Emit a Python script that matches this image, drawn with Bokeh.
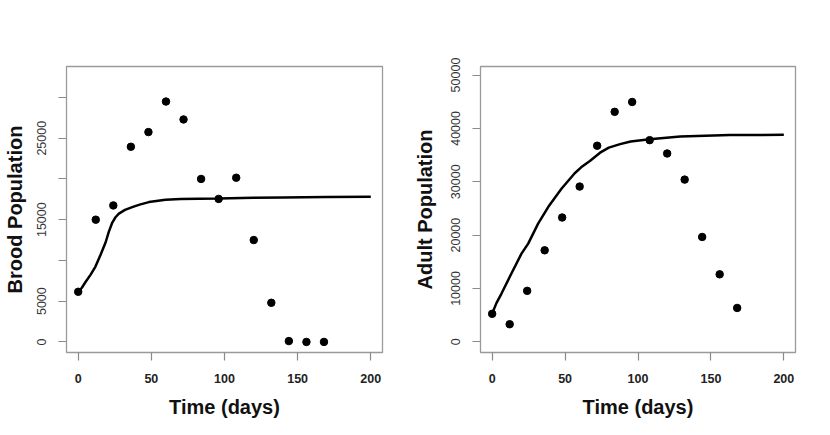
from bokeh.plotting import figure
from bokeh.models import FixedTicker, Range1d
from bokeh.layouts import row
from bokeh.embed import file_html
from bokeh.resources import INLINE

# ---- data ----
t_obs = [0, 12, 24, 36, 48, 60, 72, 84, 96, 108, 120, 132, 144, 156, 168]
brood_obs = [6150, 15000, 16750, 23950, 25750, 29500, 27300, 20000, 17550,
             20150, 12500, 4800, 100, 0, 0]
adult_obs = [5250, 3300, 9550, 17150, 23300, 29100, 36750, 43100, 44950,
             37800, 35300, 30400, 19650, 12650, 6350]

t_brood_fit = [0, 2.5, 5, 8.5, 11.8, 15.3, 18.7, 20.9, 23.3, 25.5, 27.8, 32,
               36.9, 42, 48.3, 59.7, 70, 82.5, 96, 120, 140, 170, 200]
brood_fit = [6150, 6650, 7350, 8260, 9250, 10700, 12200, 13500, 14650, 15300,
             15740, 16200, 16540, 16850, 17160, 17450, 17530, 17570, 17600,
             17680, 17720, 17770, 17800]

t_adult_fit = [0, 3, 6.4, 13.2, 20.1, 24.7, 31.5, 38.4, 47.5, 56.6, 61, 67,
               74, 80, 87.7, 95, 108, 129, 163, 200]
adult_fit = [5300, 7300, 9050, 12800, 16540, 18410, 22150, 25260, 28700,
             31600, 32700, 33900, 35450, 36400, 37050, 37550, 37950, 38500,
             38750, 38800]

x_ticks = [0, 50, 100, 150, 200]
brood_ticks = [0, 5000, 10000, 15000, 20000, 25000, 30000]
brood_tick_labels = ["0", "5000", "", "15000", "", "25000", ""]
adult_ticks = [0, 10000, 20000, 30000, 40000, 50000]
adult_tick_labels = ["0", "10000", "20000", "30000", "40000", "50000"]

FONT = "Liberation Sans"


def make_plot(t_fit, y_fit, y_obs, y_range, yticks, ylabels, ylabel,
              border_left, border_right, frame_w, label_standoff):
    p = figure(frame_width=frame_w, frame_height=286,
               x_range=Range1d(-8, 208), y_range=Range1d(*y_range),
               output_backend="svg", toolbar_location=None,
               min_border_left=border_left, min_border_right=border_right,
               min_border_top=66, min_border_bottom=66)
    p.grid.visible = False
    p.outline_line_color = "#9a9a9a"
    p.outline_line_width = 1.3
    p.background_fill_color = "white"
    p.border_fill_color = "white"

    p.line(t_fit, y_fit, line_width=2.5, color="black")
    p.scatter(t_obs, y_obs, size=7.5, color="black")

    xa = p.xaxis[0]
    xa.ticker = FixedTicker(ticks=x_ticks)
    xa.bounds = (min(x_ticks), max(x_ticks))
    xa.axis_line_color = None
    xa.major_tick_in = 0
    xa.major_tick_out = 8
    xa.major_tick_line_color = "#8a8a8a"
    xa.major_tick_line_width = 1.2
    xa.minor_tick_line_color = None
    xa.major_label_standoff = 13
    xa.major_label_text_font = FONT
    xa.major_label_text_font_size = "12.5px"
    xa.major_label_text_font_style = "bold"
    xa.major_label_text_color = "#222222"
    xa.axis_label = "Time (days)"
    xa.axis_label_text_font = FONT
    xa.axis_label_text_font_size = "20px"
    xa.axis_label_text_font_style = "bold"
    xa.axis_label_text_color = "#111111"
    xa.axis_label_standoff = 10

    ya = p.yaxis[0]
    ya.ticker = FixedTicker(ticks=yticks)
    ya.major_label_overrides = {v: s for v, s in zip(yticks, ylabels)}
    ya.bounds = (min(yticks), max(yticks))
    ya.axis_line_color = None
    ya.major_tick_in = 0
    ya.major_tick_out = 8
    ya.major_tick_line_color = "#8a8a8a"
    ya.major_tick_line_width = 1.2
    ya.minor_tick_line_color = None
    ya.major_label_orientation = "vertical"
    ya.major_label_standoff = 12
    ya.major_label_text_font = FONT
    ya.major_label_text_font_size = "12.5px"
    ya.major_label_text_color = "#333333"
    ya.axis_label = ylabel
    ya.axis_label_text_font = FONT
    ya.axis_label_text_font_size = "20px"
    ya.axis_label_text_font_style = "bold"
    ya.axis_label_text_color = "#111111"
    ya.axis_label_standoff = label_standoff
    return p


p1 = make_plot(t_brood_fit, brood_fit, brood_obs, (-1300, 33800),
               brood_ticks, brood_tick_labels, "Brood Population",
               66, 28, 316, 9)
p2 = make_plot(t_adult_fit, adult_fit, adult_obs, (-2000, 51600),
               adult_ticks, adult_tick_labels, "Adult Population",
               70, 22, 315, 13)

layout = row(p1, p2)
open("out.html", "w").write(file_html(layout, INLINE))
